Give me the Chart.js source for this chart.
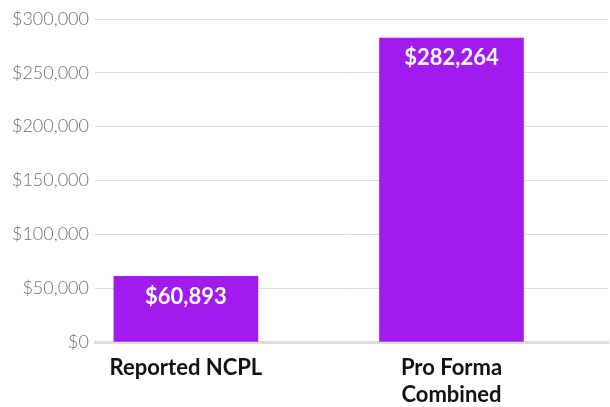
<!DOCTYPE html>
<html>
<head>
<meta charset="utf-8">
<script src="https://cdn.jsdelivr.net/npm/chart.js@4"></script>
<style>
  html, body { margin: 0; padding: 0; background: #fff; }
  #wrap { width: 610px; height: 407px; }
</style>
</head>
<body>
<div id="wrap"><canvas id="chart"></canvas></div>
<script>
const categories = [['Reported NCPL'], ['Pro Forma', 'Combined']]
const values = [60893, 282264]
const yTicks = [0, 50000, 100000, 150000, 200000, 250000, 300000]

const money = v => '$' + v.toLocaleString('en-US')

const valueLabels = {
  id: 'valueLabels',
  afterDatasetsDraw(chart) {
    const ctx = chart.ctx
    const meta = chart.getDatasetMeta(0)
    ctx.save()
    ctx.fillStyle = '#fff'
    ctx.font = 'bold 22px Lato'
    ctx.textAlign = 'center'
    ctx.textBaseline = 'middle'
    meta.data.forEach((bar, i) => {
      ctx.fillText(money(values[i]), bar.x, bar.y + 20)
    })
    ctx.restore()
  }
}

new Chart(document.getElementById('chart'), {
  type: 'bar',
  data: {
    datasets: [{
      data: values.map((v, i) => ({ x: i, y: v })),
      backgroundColor: '#a11bef',
      barThickness: 144
    }]
  },
  options: {
    responsive: true, maintainAspectRatio: false, animation: false,
    layout: { padding: { top: 19, right: 2, left: 0, bottom: 0 } },
    plugins: { legend: { display: false }, tooltip: { enabled: false } },
    scales: {
      x: {
        type: 'linear', min: -0.3423, max: 1.5893, offset: false, bounds: 'data',
        afterBuildTicks: s => { s.ticks = categories.map((c, i) => ({ value: i })) },
        afterFit: s => { s.height = 65 },
        grid: { display: false, drawTicks: false },
        border: { display: true, color: '#dcdcdc', width: 3 },
        ticks: {
          autoSkip: false, maxRotation: 0, padding: 13,
          color: '#111', font: { family: 'Lato', size: 22, weight: 'bold', lineHeight: 1.2 },
          callback: v => categories[v]
        }
      },
      y: {
        min: 0, max: 300000,
        afterBuildTicks: s => { s.ticks = yTicks.map(v => ({ value: v })) },
        afterFit: s => { s.width = 95 },
        grid: { color: '#dddddd', lineWidth: 1, drawTicks: false },
        border: { display: false },
        ticks: {
          padding: 6, color: '#6f6f6f',
          font: { family: 'Lato', size: 18, weight: 300 },
          callback: v => money(v)
        }
      }
    }
  },
  plugins: [valueLabels]
})
</script>
</body>
</html>
